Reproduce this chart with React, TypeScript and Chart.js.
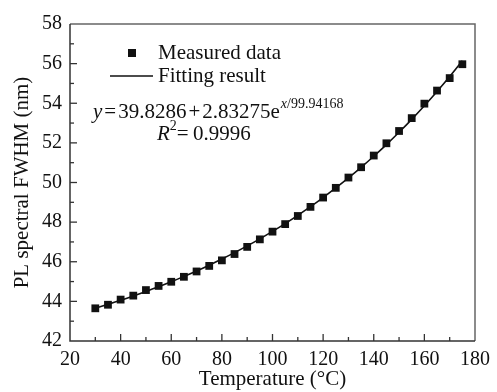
import React, { useEffect, useRef } from "react";
import { Chart, registerables } from "chart.js";

Chart.register(...registerables);

const temperatures = [30, 35, 40, 45, 50, 55, 60, 65, 70, 75, 80, 85, 90, 95, 100, 105, 110, 115, 120, 125, 130, 135, 140, 145, 150, 155, 160, 165, 170, 175];
const measuredFwhm = [43.65, 43.83, 44.09, 44.29, 44.57, 44.78, 44.99, 45.24, 45.51, 45.79, 46.07, 46.39, 46.75, 47.13, 47.52, 47.90, 48.31, 48.77, 49.24, 49.73, 50.25, 50.77, 51.36, 51.98, 52.60, 53.25, 53.98, 54.64, 55.27, 55.97];
const fittedFwhm = [43.653, 43.849, 44.056, 44.272, 44.500, 44.740, 44.992, 45.257, 45.535, 45.828, 46.136, 46.459, 46.800, 47.157, 47.533, 47.928, 48.344, 48.781, 49.240, 49.723, 50.231, 50.764, 51.325, 51.915, 52.535, 53.187, 53.872, 54.593, 55.350, 56.146];

const X_MIN = 20, X_MAX = 180, X_STEP = 20, X_MINOR = 10;
const Y_MIN = 42, Y_MAX = 58, Y_STEP = 2, Y_MINOR = 1;

const xTitle = "Temperature (\u00B0C)";
const yTitle = "PL spectral FWHM (nm)";
const legendMeasured = "Measured data";
const legendFit = "Fitting result";
const eqParts = ["=", "39.8286", "+", "2.83275e"];
const eqExp = "x/99.94168";
const r2Value = "=\u20090.9996";

const SERIF = "'Liberation Serif', 'Times New Roman', serif";

const decorPlugin = {
  id: "decor",
  afterDraw(chart: any) {
    const ctx = chart.ctx;
    const { left, right, top, bottom } = chart.chartArea;
    const xs = chart.scales.x;
    const ys = chart.scales.y;
    ctx.save();
    ctx.strokeStyle = "#666";
    ctx.lineWidth = 1.5;
    ctx.beginPath();
    ctx.moveTo(left, top);
    ctx.lineTo(right, top);
    ctx.lineTo(right, bottom);
    ctx.stroke();
    ctx.strokeStyle = "#333";
    ctx.beginPath();
    ctx.moveTo(left, top);
    ctx.lineTo(left, bottom);
    ctx.lineTo(right, bottom);
    ctx.stroke();
    ctx.lineWidth = 1.3;
    for (let v = X_MIN + X_MINOR; v < X_MAX; v += X_MINOR) {
      const px = xs.getPixelForValue(v);
      const major = (v - X_MIN) % X_STEP === 0;
      ctx.beginPath();
      ctx.moveTo(px, bottom);
      ctx.lineTo(px, bottom - (major ? 7 : 4));
      ctx.stroke();
    }
    for (let v = Y_MIN + Y_MINOR; v < Y_MAX; v += Y_MINOR) {
      const py = ys.getPixelForValue(v);
      const major = (v - Y_MIN) % Y_STEP === 0;
      ctx.beginPath();
      ctx.moveTo(left, py);
      ctx.lineTo(left + (major ? 7 : 4), py);
      ctx.stroke();
    }
    // legend
    ctx.fillStyle = "#111";
    ctx.fillRect(128, 49, 8, 8);
    ctx.strokeStyle = "#111";
    ctx.lineWidth = 1.6;
    ctx.beginPath();
    ctx.moveTo(110, 76);
    ctx.lineTo(153, 76);
    ctx.stroke();
    ctx.textBaseline = "alphabetic";
    ctx.textAlign = "left";
    ctx.font = `21px ${SERIF}`;
    ctx.fillText(legendMeasured, 158, 59);
    ctx.fillText(legendFit, 158, 82);
    // equation
    ctx.font = `italic 21px ${SERIF}`;
    ctx.fillText("y", 93, 118);
    let x = 93 + ctx.measureText("y").width + 2;
    ctx.font = `21px ${SERIF}`;
    for (const p of eqParts) {
      ctx.fillText(p, x, 118);
      x += ctx.measureText(p).width + 2;
    }
    x -= 1;
    ctx.font = `italic 14px ${SERIF}`;
    ctx.fillText("x", x, 108);
    x += ctx.measureText("x").width;
    ctx.font = `14px ${SERIF}`;
    ctx.fillText(eqExp.slice(1), x, 108);
    // R^2
    ctx.font = `italic 21px ${SERIF}`;
    ctx.fillText("R", 157, 140);
    let x2 = 157 + ctx.measureText("R").width;
    ctx.font = `14px ${SERIF}`;
    ctx.fillText("2", x2, 130);
    x2 += ctx.measureText("2").width;
    ctx.font = `21px ${SERIF}`;
    ctx.fillText(r2Value, x2, 140);
    ctx.restore();
  },
};

export default function App() {
  const ref = useRef<HTMLCanvasElement | null>(null);
  useEffect(() => {
    document.body.style.margin = "0";
    const canvas = ref.current;
    if (!canvas) return;
    const chart = new Chart(canvas, {
      type: "line",
      data: {
        datasets: [
          {
            label: legendFit,
            data: temperatures.map((t, i) => ({ x: t, y: fittedFwhm[i] })),
            borderColor: "#111",
            borderWidth: 1.6,
            pointRadius: 0,
            tension: 0.3,
            order: 2,
          },
          {
            label: legendMeasured,
            data: temperatures.map((t, i) => ({ x: t, y: measuredFwhm[i] })),
            showLine: false,
            pointStyle: "rect",
            pointRadius: 5.5,
            pointBackgroundColor: "#111",
            pointBorderColor: "#111",
            pointBorderWidth: 0,
            order: 1,
          },
        ],
      },
      options: {
        responsive: false,
        animation: false,
        devicePixelRatio: 1,
        layout: { padding: { top: 24, right: 18, left: 0, bottom: 0 } },
        plugins: { legend: { display: false }, tooltip: { enabled: false }, title: { display: false } },
        scales: {
          x: {
            type: "linear",
            min: X_MIN,
            max: X_MAX,
            grid: { display: false, drawTicks: false },
            border: { display: false },
            ticks: { stepSize: X_STEP, padding: 7, color: "#111", font: { family: SERIF, size: 20 }, maxRotation: 0 },
            title: { display: true, text: xTitle, color: "#111", font: { family: SERIF, size: 21 }, padding: { top: 0, bottom: 0 } },
            afterFit: (s: any) => { s.height = 51; },
          },
          y: {
            type: "linear",
            min: Y_MIN,
            max: Y_MAX,
            grid: { display: false, drawTicks: false },
            border: { display: false },
            ticks: { stepSize: Y_STEP, padding: 8, color: "#111", font: { family: SERIF, size: 20 } },
            title: { display: true, text: yTitle, color: "#111", font: { family: SERIF, size: 21 }, padding: { top: 10, bottom: 0 } },
            afterFit: (s: any) => { s.width = 70; },
          },
        },
      },
      plugins: [decorPlugin],
    });
    return () => chart.destroy();
  }, []);
  return (
    <div style={{ position: "absolute", left: 0, top: 0, width: 497, height: 392, background: "#fff" }}>
      <canvas ref={ref} width={497} height={392} style={{ width: 497, height: 392 }} />
    </div>
  );
}
